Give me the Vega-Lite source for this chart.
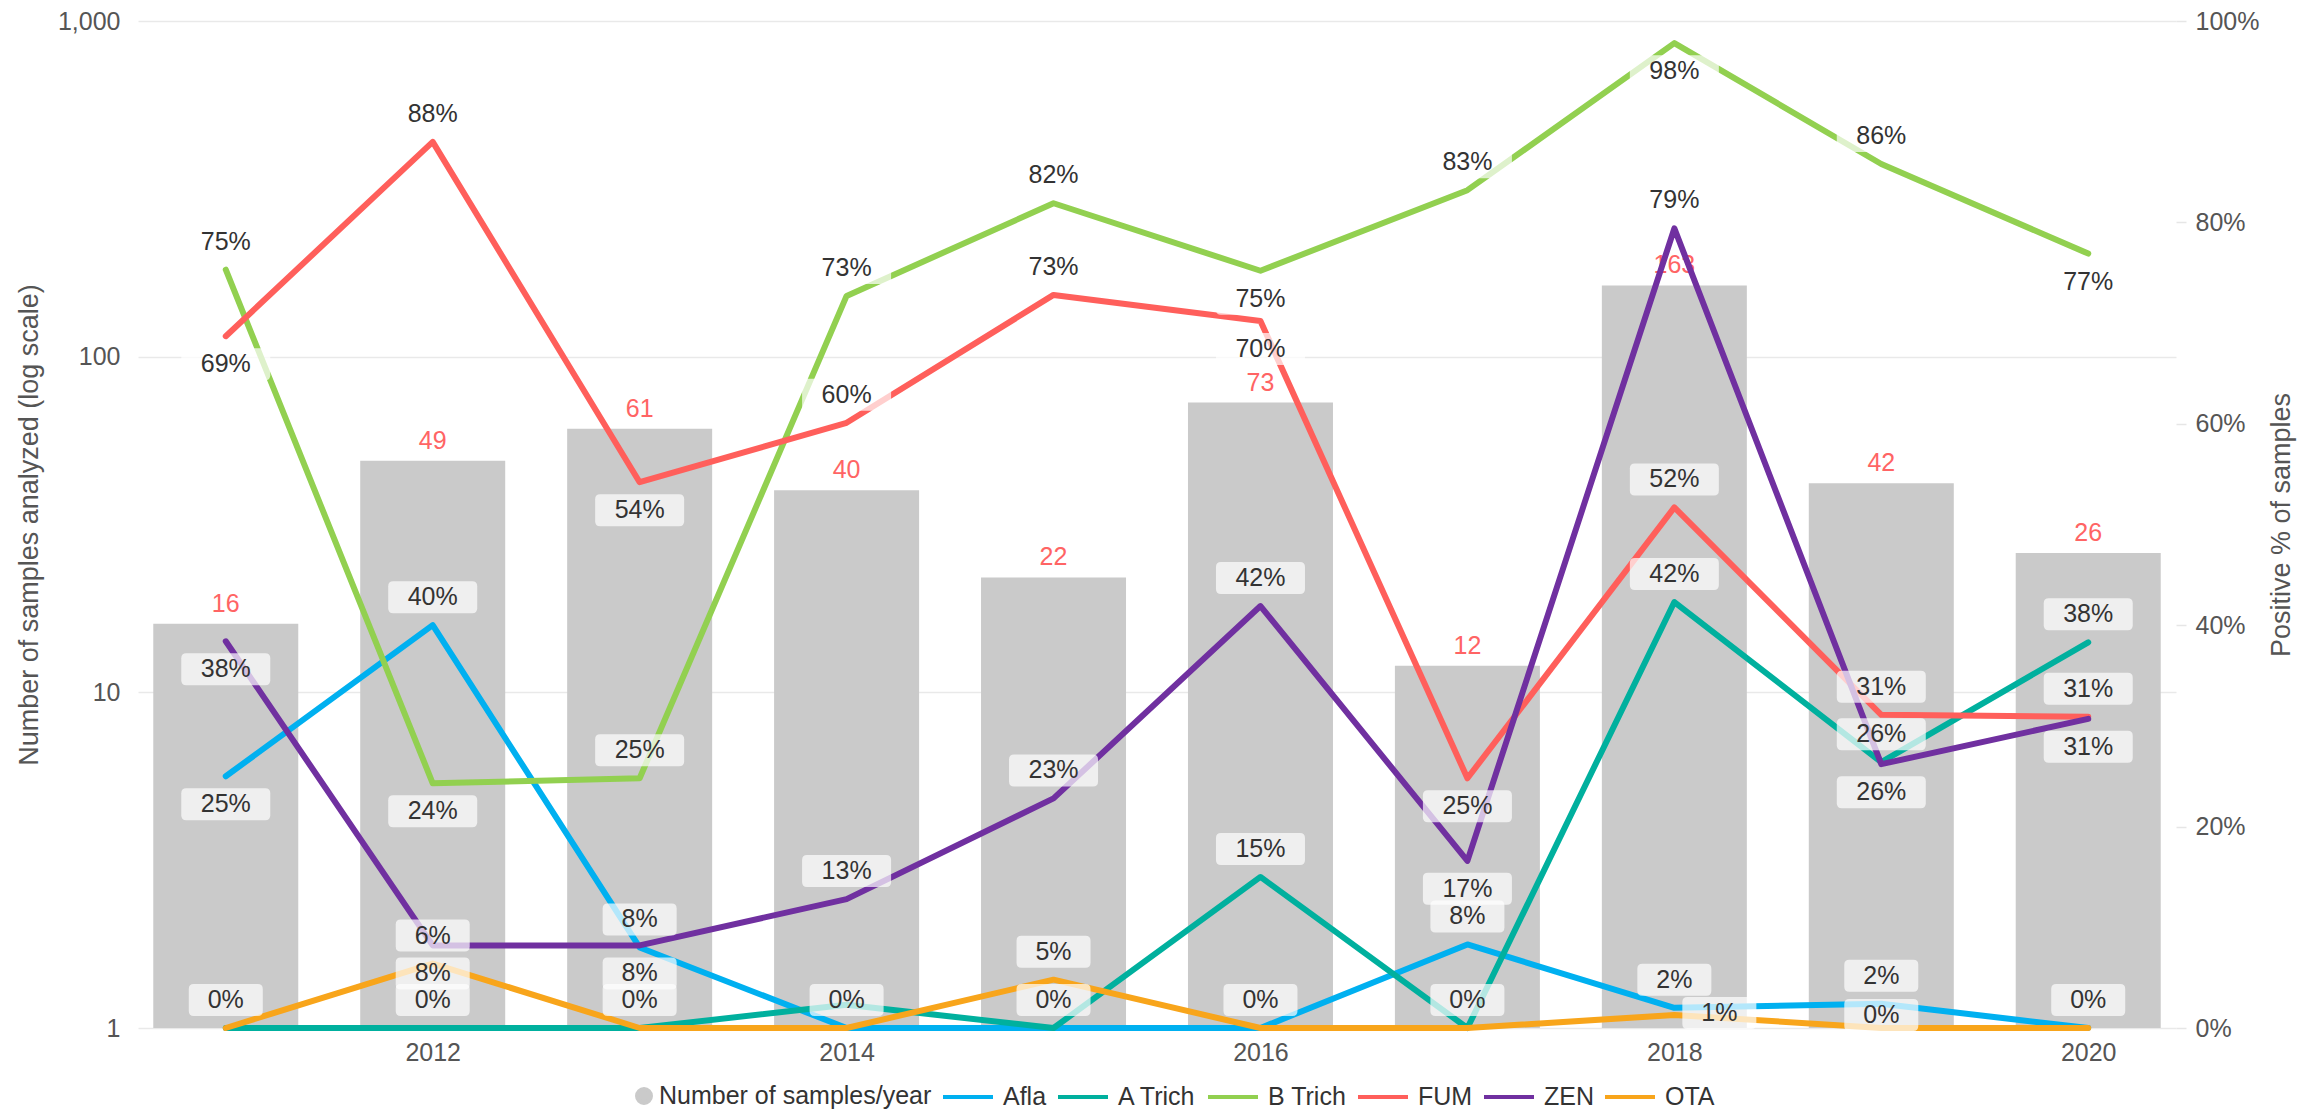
{
  "$schema": "https://vega.github.io/schema/vega-lite/v6.json",
  "width": 2038,
  "height": 1007,
  "autosize": {"type": "none"},
  "padding": {"left": 138, "top": 21, "right": 144, "bottom": 84},
  "background": "white",
  "config": {
    "font": "Liberation Sans",
    "view": {"stroke": null},
    "legend": {"layout": {"bottom": {"anchor": "middle"}}}
  },
  "datasets": {
    "samples": [
      {"year": 2011, "n": 16}, {"year": 2012, "n": 49}, {"year": 2013, "n": 61},
      {"year": 2014, "n": 40}, {"year": 2015, "n": 22}, {"year": 2016, "n": 73},
      {"year": 2017, "n": 12}, {"year": 2018, "n": 163}, {"year": 2019, "n": 42},
      {"year": 2020, "n": 26}
    ],
    "pct": [
      {"series": "Afla", "year": 2011, "pct": 0.25}, {"series": "Afla", "year": 2012, "pct": 0.40},
      {"series": "Afla", "year": 2013, "pct": 0.08}, {"series": "Afla", "year": 2014, "pct": 0},
      {"series": "Afla", "year": 2015, "pct": 0}, {"series": "Afla", "year": 2016, "pct": 0},
      {"series": "Afla", "year": 2017, "pct": 0.083}, {"series": "Afla", "year": 2018, "pct": 0.02},
      {"series": "Afla", "year": 2019, "pct": 0.024}, {"series": "Afla", "year": 2020, "pct": 0},
      {"series": "A Trich", "year": 2011, "pct": 0}, {"series": "A Trich", "year": 2012, "pct": 0},
      {"series": "A Trich", "year": 2013, "pct": 0}, {"series": "A Trich", "year": 2014, "pct": 0.023},
      {"series": "A Trich", "year": 2015, "pct": 0}, {"series": "A Trich", "year": 2016, "pct": 0.15},
      {"series": "A Trich", "year": 2017, "pct": 0}, {"series": "A Trich", "year": 2018, "pct": 0.423},
      {"series": "A Trich", "year": 2019, "pct": 0.264}, {"series": "A Trich", "year": 2020, "pct": 0.383},
      {"series": "B Trich", "year": 2011, "pct": 0.753}, {"series": "B Trich", "year": 2012, "pct": 0.243},
      {"series": "B Trich", "year": 2013, "pct": 0.248}, {"series": "B Trich", "year": 2014, "pct": 0.727},
      {"series": "B Trich", "year": 2015, "pct": 0.819}, {"series": "B Trich", "year": 2016, "pct": 0.752},
      {"series": "B Trich", "year": 2017, "pct": 0.832}, {"series": "B Trich", "year": 2018, "pct": 0.978},
      {"series": "B Trich", "year": 2019, "pct": 0.858}, {"series": "B Trich", "year": 2020, "pct": 0.769},
      {"series": "FUM", "year": 2011, "pct": 0.687}, {"series": "FUM", "year": 2012, "pct": 0.88},
      {"series": "FUM", "year": 2013, "pct": 0.542}, {"series": "FUM", "year": 2014, "pct": 0.601},
      {"series": "FUM", "year": 2015, "pct": 0.728}, {"series": "FUM", "year": 2016, "pct": 0.702},
      {"series": "FUM", "year": 2017, "pct": 0.248}, {"series": "FUM", "year": 2018, "pct": 0.517},
      {"series": "FUM", "year": 2019, "pct": 0.311}, {"series": "FUM", "year": 2020, "pct": 0.309},
      {"series": "ZEN", "year": 2011, "pct": 0.384}, {"series": "ZEN", "year": 2012, "pct": 0.082},
      {"series": "ZEN", "year": 2013, "pct": 0.082}, {"series": "ZEN", "year": 2014, "pct": 0.128},
      {"series": "ZEN", "year": 2015, "pct": 0.228}, {"series": "ZEN", "year": 2016, "pct": 0.419},
      {"series": "ZEN", "year": 2017, "pct": 0.166}, {"series": "ZEN", "year": 2018, "pct": 0.794},
      {"series": "ZEN", "year": 2019, "pct": 0.262}, {"series": "ZEN", "year": 2020, "pct": 0.307},
      {"series": "OTA", "year": 2011, "pct": 0}, {"series": "OTA", "year": 2012, "pct": 0.064},
      {"series": "OTA", "year": 2013, "pct": 0}, {"series": "OTA", "year": 2014, "pct": 0},
      {"series": "OTA", "year": 2015, "pct": 0.048}, {"series": "OTA", "year": 2016, "pct": 0},
      {"series": "OTA", "year": 2017, "pct": 0}, {"series": "OTA", "year": 2018, "pct": 0.013},
      {"series": "OTA", "year": 2019, "pct": 0}, {"series": "OTA", "year": 2020, "pct": 0}
    ]
  },
  "layer": [
    {
      "data": {"name": "samples"},
      "encoding": {
        "x": {
          "field": "year", "type": "quantitative",
          "scale": {"domain": [2010.6, 2020.4], "nice": false, "zero": false},
          "axis": {
            "title": null, "values": [2012, 2014, 2016, 2018, 2020], "format": "d",
            "grid": false, "domain": false, "ticks": false,
            "labelFontSize": 25, "labelColor": "#555555", "labelPadding": 12
          }
        },
        "y": {
          "field": "n", "type": "quantitative",
          "scale": {"type": "log", "domain": [1, 1000], "nice": false},
          "axis": {
            "title": "Number of samples analyzed (log scale)",
            "values": [1, 10, 100, 1000], "format": ",",
            "grid": true, "gridColor": "#e9e9e9", "gridWidth": 1.5,
            "domain": false, "ticks": false,
            "labelFontSize": 25, "labelColor": "#555555", "labelPadding": 18,
            "titleFontSize": 27, "titleColor": "#555555", "titleFontWeight": "normal", "titlePadding": 14
          }
        }
      },
      "layer": [
        {
          "mark": {"type": "bar", "width": 145},
          "encoding": {
            "y2": {"datum": 1},
            "color": {
              "datum": "Number of samples/year", "type": "nominal",
              "scale": {
                "domain": ["Number of samples/year", "Afla", "A Trich", "B Trich", "FUM", "ZEN", "OTA"],
                "range": ["#cacaca", "#00b0f0", "#00b09e", "#92d050", "#ff5f5b", "#7030a0", "#f8a51b"]
              },
              "legend": {
                "title": null, "orient": "bottom", "direction": "horizontal",
                "labelFontSize": 25, "labelColor": "#333333", "labelLimit": 600, "symbolSize": 2500,
                "symbolStrokeWidth": 4, "columnPadding": 3, "labelOffset": 6, "offset": 4,
                "encode": {"symbols": {"update": {
                  "shape": {"signal": "datum.value === 'Number of samples/year' ? 'circle' : 'stroke'"},
                  "size": {"signal": "datum.value === 'Number of samples/year' ? 196 : 2500"},
                  "fill": {"signal": "datum.value === 'Number of samples/year' ? '#cacaca' : 'transparent'"},
                  "stroke": {"signal": "datum.value === 'Number of samples/year' ? 'transparent' : scale('color', datum.value)"},
                  "strokeWidth": {"value": 4},
                  "x": {"signal": "datum.value === 'Number of samples/year' ? 45 : 25"}
                }}}
              }
            }
          }
        },
        {
          "mark": {"type": "text", "baseline": "bottom", "dy": -7, "fontSize": 25, "color": "#ff6464"},
          "encoding": {"text": {"field": "n", "type": "quantitative"}}
        }
      ]
    },
    {
      "data": {"name": "pct"},
      "transform": [
        {"calculate": "datum.series + '|' + datum.year", "as": "key"},
        {"calculate": "indexof(['Afla|2011','FUM|2011','ZEN|2011','B Trich|2012','ZEN|2012','FUM|2013','ZEN|2013','B Trich|2016','FUM|2016','FUM|2017','ZEN|2017','B Trich|2018','ZEN|2019','B Trich|2020','ZEN|2020'], datum.key) >= 0 ? 'below' : indexof(['OTA|2011','OTA|2013','A Trich|2014','OTA|2014','A Trich|2015','OTA|2016','OTA|2017','OTA|2020'], datum.key) >= 0 ? 'hidden' : datum.key === 'OTA|2019' ? 'low' : datum.key === 'OTA|2018' ? 'right' : 'above'", "as": "pos"},
        {"calculate": "datum.pos + (datum.pct < 0.095 ? '2' : '3')", "as": "box"}
      ],
      "encoding": {
        "x": {"field": "year", "type": "quantitative", "scale": {"domain": [2010.6, 2020.4], "nice": false, "zero": false}},
        "y": {
          "field": "pct", "type": "quantitative",
          "scale": {"domain": [0, 1], "nice": false},
          "axis": {
            "orient": "right", "title": "Positive % of samples",
            "values": [0, 0.2, 0.4, 0.6, 0.8, 1], "format": ".0%",
            "grid": false, "domain": false, "ticks": true, "tickSize": 10, "tickColor": "#e6e6e6", "tickWidth": 1.5,
            "labelFontSize": 25, "labelColor": "#555555", "labelPadding": 9,
            "titleFontSize": 27, "titleColor": "#555555", "titleFontWeight": "normal",
            "titleAngle": -90, "titleBaseline": "top", "titlePadding": 10
          }
        }
      },
      "layer": [
        {
          "mark": {"type": "line", "strokeWidth": 6, "strokeJoin": "round", "strokeCap": "round"},
          "encoding": {
            "color": {
              "field": "series", "type": "nominal",
              "scale": {
                "domain": ["Number of samples/year", "Afla", "A Trich", "B Trich", "FUM", "ZEN", "OTA"],
                "range": ["#cacaca", "#00b0f0", "#00b09e", "#92d050", "#ff5f5b", "#7030a0", "#f8a51b"]
              },
              "legend": {
                "title": null, "orient": "bottom", "direction": "horizontal",
                "labelFontSize": 25, "labelColor": "#333333", "labelLimit": 600, "symbolSize": 2500,
                "symbolStrokeWidth": 4, "columnPadding": 3, "labelOffset": 6, "offset": 4,
                "encode": {"symbols": {"update": {
                  "shape": {"signal": "datum.value === 'Number of samples/year' ? 'circle' : 'stroke'"},
                  "size": {"signal": "datum.value === 'Number of samples/year' ? 196 : 2500"},
                  "fill": {"signal": "datum.value === 'Number of samples/year' ? '#cacaca' : 'transparent'"},
                  "stroke": {"signal": "datum.value === 'Number of samples/year' ? 'transparent' : scale('color', datum.value)"},
                  "strokeWidth": {"value": 4},
                  "x": {"signal": "datum.value === 'Number of samples/year' ? 45 : 25"}
                }}}
              }
            }
          }
        },
        {
          "transform": [{"filter": "datum.pos !== 'hidden'"}],
          "mark": {"type": "point", "filled": true, "opacity": 0.7, "strokeWidth": 0},
          "encoding": {
            "color": {"value": "#ffffff"},
            "size": {"value": 7921},
            "shape": {
              "field": "box", "type": "nominal", "legend": null,
              "scale": {
                "domain": ["above3", "above2", "below3", "below2", "low2", "right2"],
                "range": [
                  "M-0.8876,-0.9888H0.8876Q1,-0.9888 1,-0.8764V-0.382Q1,-0.2696 0.8876,-0.2696H-0.8876Q-1,-0.2696 -1,-0.382V-0.8764Q-1,-0.9888 -0.8876,-0.9888Z",
                  "M-0.7191,-0.9888H0.7191Q0.8315,-0.9888 0.8315,-0.8764V-0.382Q0.8315,-0.2696 0.7191,-0.2696H-0.7191Q-0.8315,-0.2696 -0.8315,-0.382V-0.8764Q-0.8315,-0.9888 -0.7191,-0.9888Z",
                  "M-0.8876,0.2696H0.8876Q1,0.2696 1,0.382V0.8764Q1,0.9888 0.8876,0.9888H-0.8876Q-1,0.9888 -1,0.8764V0.382Q-1,0.2696 -0.8876,0.2696Z",
                  "M-0.7191,0.2696H0.7191Q0.8315,0.2696 0.8315,0.382V0.8764Q0.8315,0.9888 0.7191,0.9888H-0.7191Q-0.8315,0.9888 -0.8315,0.8764V0.382Q-0.8315,0.2696 -0.7191,0.2696Z",
                  "M-0.7191,-0.6517H0.7191Q0.8315,-0.6517 0.8315,-0.5393V-0.0449Q0.8315,0.0675 0.7191,0.0675H-0.7191Q-0.8315,0.0675 -0.8315,-0.0449V-0.5393Q-0.8315,-0.6517 -0.7191,-0.6517Z",
                  "M0.2921,-0.4046H1.7303Q1.8427,-0.4046 1.8427,-0.2922V0.2022Q1.8427,0.3146 1.7303,0.3146H0.2921Q0.1797,0.3146 0.1797,0.2022V-0.2922Q0.1797,-0.4046 0.2921,-0.4046Z"
                ]
              }
            }
          }
        },
        {
          "transform": [{"filter": "datum.pos === 'above'"}],
          "mark": {"type": "text", "baseline": "middle", "dy": -28, "fontSize": 25, "color": "#333333"},
          "encoding": {"text": {"field": "pct", "type": "quantitative", "format": ".0%"}}
        },
        {
          "transform": [{"filter": "datum.pos === 'below'"}],
          "mark": {"type": "text", "baseline": "middle", "dy": 28, "fontSize": 25, "color": "#333333"},
          "encoding": {"text": {"field": "pct", "type": "quantitative", "format": ".0%"}}
        },
        {
          "transform": [{"filter": "datum.pos === 'low'"}],
          "mark": {"type": "text", "baseline": "middle", "dy": -13, "fontSize": 25, "color": "#333333"},
          "encoding": {"text": {"field": "pct", "type": "quantitative", "format": ".0%"}}
        },
        {
          "transform": [{"filter": "datum.pos === 'right'"}],
          "mark": {"type": "text", "baseline": "middle", "dx": 45, "dy": -2, "fontSize": 25, "color": "#333333"},
          "encoding": {"text": {"field": "pct", "type": "quantitative", "format": ".0%"}}
        }
      ]
    }
  ],
  "resolve": {"scale": {"y": "independent"}, "axis": {"y": "independent"}}
}
